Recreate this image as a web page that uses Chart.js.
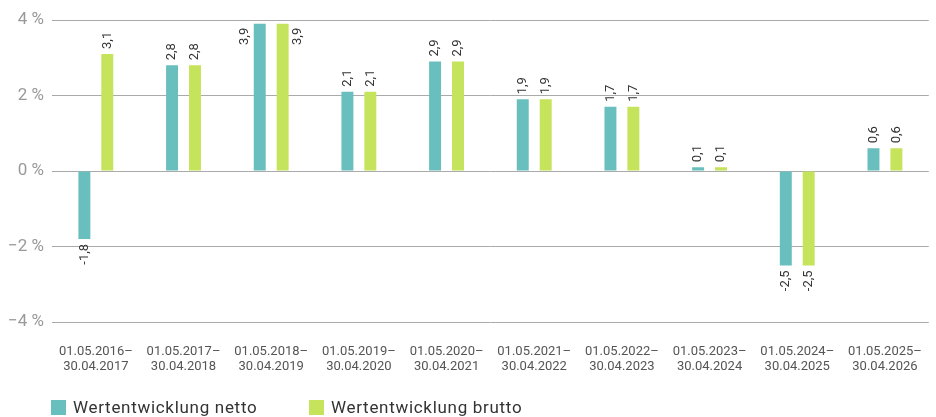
<!DOCTYPE html>
<html>
<head>
<meta charset="utf-8">
<script src="https://cdn.jsdelivr.net/npm/chart.js@4/dist/chart.umd.min.js"></script>
<style>
  html, body { margin: 0; padding: 0; background: #fff; }
  #wrap { position: relative; width: 936px; height: 417px; }
  #legend { position: absolute; left: 0; top: 0; width: 936px; height: 417px; pointer-events: none; }
  .item { position: absolute; top: 397px; height: 20px; font: 17px Roboto, sans-serif; letter-spacing: 0.7px; color: #333; white-space: nowrap; }
  .item span.box { position: absolute; left: 0; top: 3px; width: 15px; height: 15px; }
  .item span.txt { position: absolute; left: 22px; top: 0; line-height: 20px; }
</style>
</head>
<body>
<div id="wrap">
  <canvas id="chart" width="936" height="417"></canvas>
  <div id="legend"></div>
</div>
<script>
const periods = [
  ["01.05.2016–", "30.04.2017"],
  ["01.05.2017–", "30.04.2018"],
  ["01.05.2018–", "30.04.2019"],
  ["01.05.2019–", "30.04.2020"],
  ["01.05.2020–", "30.04.2021"],
  ["01.05.2021–", "30.04.2022"],
  ["01.05.2022–", "30.04.2023"],
  ["01.05.2023–", "30.04.2024"],
  ["01.05.2024–", "30.04.2025"],
  ["01.05.2025–", "30.04.2026"]
];
const netto = [-1.8, 2.8, 3.9, 2.1, 2.9, 1.9, 1.7, 0.1, -2.5, 0.6];
const brutto = [3.1, 2.8, 3.9, 2.1, 2.9, 1.9, 1.7, 0.1, -2.5, 0.6];
const seriesNames = ["Wertentwicklung netto", "Wertentwicklung brutto"];
const seriesColors = ["#68BFBD", "#C5E35B"];

const FONT = "Roboto, sans-serif";

// draws the rotated value labels next to each bar
const valueLabels = {
  id: "valueLabels",
  afterDatasetsDraw(chart) {
    const ctx = chart.ctx;
    const top = chart.chartArea.top;
    ctx.save();
    ctx.font = "13px " + FONT;
    ctx.fillStyle = "#333";
    ctx.textBaseline = "middle";
    chart.data.datasets.forEach((ds, di) => {
      const meta = chart.getDatasetMeta(di);
      meta.data.forEach((bar, i) => {
        const v = ds.data[i];
        const txt = v.toFixed(1).replace(".", ",");
        const w = ctx.measureText(txt).width;
        let x = bar.x, y, align;
        if (v < 0) {
          y = bar.y + 5;
          align = "right";
        } else if (bar.y - 5 - w < top) {
          // not enough room above: put it beside the bar
          const half = bar.width / 2 + 9;
          x = di === 0 ? bar.x - half : bar.x + half;
          y = bar.y + 4;
          align = "right";
        } else {
          y = bar.y - 5;
          align = "left";
        }
        ctx.save();
        ctx.translate(x, y);
        ctx.rotate(-Math.PI / 2);
        ctx.textAlign = align;
        ctx.fillText(txt, 0, 0);
        ctx.restore();
      });
    });
    ctx.restore();
  }
};

const chart = new Chart(document.getElementById("chart"), {
  type: "bar",
  data: {
    labels: periods,
    datasets: [
      { label: seriesNames[0], data: netto, backgroundColor: seriesColors[0] },
      { label: seriesNames[1], data: brutto, backgroundColor: seriesColors[1] }
    ]
  },
  options: {
    responsive: false,
    animation: false,
    categoryPercentage: 46 / 88,
    barPercentage: 12 / 23,
    layout: { padding: { top: 20, right: 3, bottom: 45, left: 0 } },
    plugins: {
      legend: { display: false },
      tooltip: { enabled: false }
    },
    scales: {
      x: {
        grid: { display: false },
        border: { display: false },
        ticks: {
          color: "#555",
          font: { family: FONT, size: 13, lineHeight: 1.15 },
          padding: 14,
          maxRotation: 0,
          autoSkip: false
        },
        afterFit(scale) { scale.height = 50; }
      },
      y: {
        min: -4,
        max: 4,
        ticks: {
          stepSize: 2,
          color: "#999",
          padding: 8,
          font: { family: FONT, size: 17 },
          callback: v => (v < 0 ? "\u2212" : "") + Math.abs(v) + " %"
        },
        grid: { color: "#aaaaaa", drawTicks: false, lineWidth: 1 },
        border: { display: false },
        afterFit(scale) { scale.width = 52; }
      }
    }
  },
  plugins: [valueLabels]
});

// legend built from the dataset names and colours
const legend = document.getElementById("legend");
const legendLeft = [51, 309];
chart.data.datasets.forEach((ds, i) => {
  const item = document.createElement("div");
  item.className = "item";
  item.style.left = legendLeft[i] + "px";
  item.innerHTML = '<span class="box" style="background:' + ds.backgroundColor + '"></span><span class="txt">' + ds.label + '</span>';
  legend.appendChild(item);
});
</script>
</body>
</html>
